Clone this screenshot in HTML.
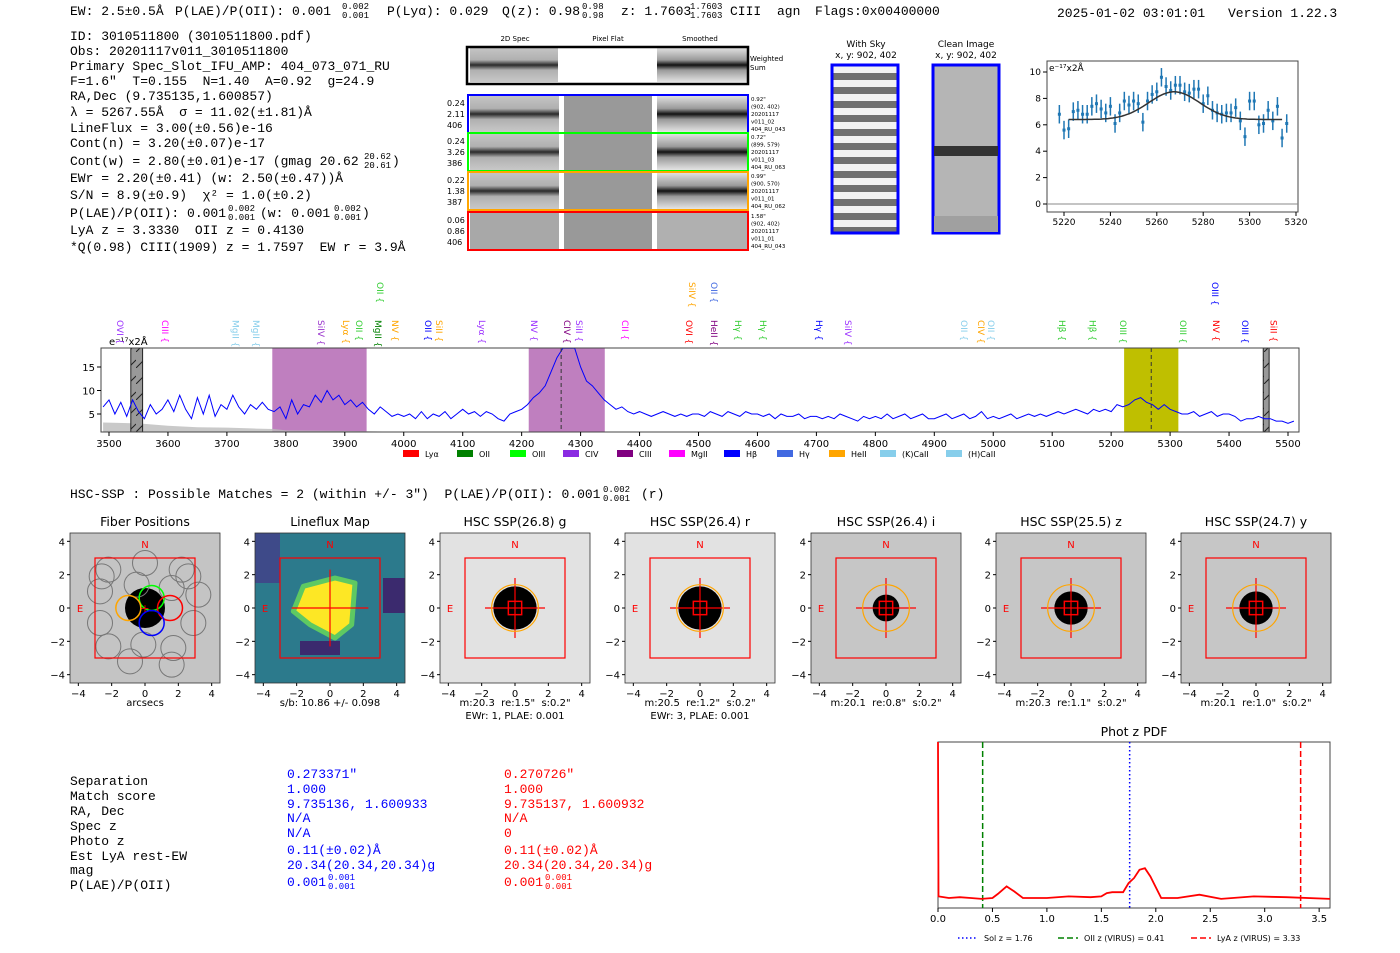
<!DOCTYPE html>
<html><head><meta charset="utf-8"><style>
body{margin:0;background:#fff;width:1400px;height:953px;overflow:hidden}
svg{display:block}
text{white-space:pre}
.m{font-family:"Liberation Mono","DejaVu Sans Mono",monospace;font-size:13px}
.sm{font-family:"Liberation Mono","DejaVu Sans Mono",monospace;font-size:9px}
.s{font-family:"DejaVu Sans","Liberation Sans",sans-serif}
</style></head><body>
<svg id="root" width="1400" height="953" viewBox="0 0 1400 953" xmlns="http://www.w3.org/2000/svg">
<defs>
<linearGradient id="band" x1="0" y1="0" x2="0" y2="1"><stop offset="0" stop-color="#c4c4c4"/><stop offset="0.35" stop-color="#b0b0b0"/><stop offset="0.5" stop-color="#2a2a2a"/><stop offset="0.65" stop-color="#b0b0b0"/><stop offset="1" stop-color="#c8c8c8"/></linearGradient>
<linearGradient id="bandS" x1="0" y1="0" x2="0" y2="1"><stop offset="0" stop-color="#e0e0e0"/><stop offset="0.35" stop-color="#9a9a9a"/><stop offset="0.5" stop-color="#111"/><stop offset="0.65" stop-color="#9a9a9a"/><stop offset="1" stop-color="#e4e4e4"/></linearGradient>
<pattern id="sky" width="10" height="14" patternUnits="userSpaceOnUse"><rect width="10" height="14" fill="#f2f2f2"/><rect y="3" width="10" height="7" fill="#707070"/></pattern>
<pattern id="hatch" width="8" height="16" patternUnits="userSpaceOnUse"><rect width="8" height="16" fill="#999"/><line x1="0" y1="16" x2="8" y2="8" stroke="#222" stroke-width="1"/></pattern>
</defs>

<g>
<text class="m" x="70" y="15">EW: 2.5±0.5Å</text>
<text class="m" x="175" y="15">P(LAE)/P(OII): 0.001</text>
<text class="sm" x="342" y="9">0.002</text><text class="sm" x="342" y="18">0.001</text>
<text class="m" x="387" y="15">P(Lyα): 0.029</text>
<text class="m" x="502" y="15">Q(z): 0.98</text>
<text class="sm" x="582" y="9">0.98</text><text class="sm" x="582" y="18">0.98</text>
<text class="m" x="621" y="15">z: 1.7603</text>
<text class="sm" x="690" y="9">1.7603</text><text class="sm" x="690" y="18">1.7603</text>
<text class="m" x="730" y="15">CIII</text>
<text class="m" x="777" y="15">agn</text>
<text class="m" x="815" y="15">Flags:0x00400000</text>
<text class="m" x="1057" y="17">2025-01-02 03:01:01</text>
<text class="m" x="1228" y="17">Version 1.22.3</text>
</g>

<g>
<text class="m" x="70" y="40">ID: 3010511800 (3010511800.pdf)</text>
<text class="m" x="70" y="55">Obs: 20201117v011_3010511800</text>
<text class="m" x="70" y="70">Primary Spec_Slot_IFU_AMP: 404_073_071_RU</text>
<text class="m" x="70" y="85">F=1.6"  T=0.155  N=1.40  A=0.92  g=24.9</text>
<text class="m" x="70" y="100">RA,Dec (9.735135,1.600857)</text>
<text class="m" x="70" y="116">λ = 5267.55Å  σ = 11.02(±1.81)Å</text>
<text class="m" x="70" y="132">LineFlux = 3.00(±0.56)e-16</text>
<text class="m" x="70" y="147">Cont(n) = 3.20(±0.07)e-17</text>
<text class="m" x="70" y="165">Cont(w) = 2.80(±0.01)e-17 (gmag 20.62</text>
<text class="sm" x="364" y="159">20.62</text><text class="sm" x="364" y="168">20.61</text><text class="m" x="392" y="165">)</text>
<text class="m" x="70" y="182">EWr = 2.20(±0.41) (w: 2.50(±0.47))Å</text>
<text class="m" x="70" y="199">S/N = 8.9(±0.9)  χ² = 1.0(±0.2)</text>
<text class="m" x="70" y="217">P(LAE)/P(OII): 0.001</text>
<text class="sm" x="228" y="211">0.002</text><text class="sm" x="228" y="220">0.001</text>
<text class="m" x="260" y="217">(w: 0.001</text>
<text class="sm" x="334" y="211">0.002</text><text class="sm" x="334" y="220">0.001</text><text class="m" x="362" y="217">)</text>
<text class="m" x="70" y="234">LyA z = 3.3330  OII z = 0.4130</text>
<text class="m" x="70" y="251">*Q(0.98) CIII(1909) z = 1.7597  EW r = 3.9Å</text>
</g>

<g>
<text x="515" y="41" text-anchor="middle" class="s" font-size="7">2D Spec</text>
<text x="608" y="41" text-anchor="middle" class="s" font-size="7">Pixel Flat</text>
<text x="700" y="41" text-anchor="middle" class="s" font-size="7">Smoothed</text>
<rect x="470" y="48" width="88" height="34" fill="url(#band)"/>
<rect x="657" y="48" width="90" height="34" fill="url(#bandS)"/>
<rect x="467" y="47" width="281" height="37" fill="none" stroke="#000" stroke-width="2.5"/>
<text x="750" y="61" class="s" font-size="7">Weighted</text><text x="750" y="70" class="s" font-size="7">Sum</text>
<g id="rows"></g>
<text x="866" y="47" text-anchor="middle" class="s" font-size="9">With Sky</text>
<text x="866" y="58" text-anchor="middle" class="s" font-size="9">x, y: 902, 402</text>
<rect x="832" y="65" width="66" height="168" fill="url(#sky)" stroke="#00f" stroke-width="3"/>
<text x="966" y="47" text-anchor="middle" class="s" font-size="9">Clean Image</text>
<text x="966" y="58" text-anchor="middle" class="s" font-size="9">x, y: 902, 402</text>
<rect x="933" y="65" width="66" height="168" fill="#b5b5b5" stroke="#00f" stroke-width="3"/>
<rect x="934" y="146" width="64" height="10" fill="#333"/>
<rect x="934" y="216" width="64" height="16" fill="#a0a0a0"/>
</g>

<g id="fit"></g>
<g id="spec"></g>

<text class="m" x="70" y="498">HSC-SSP : Possible Matches = 2 (within +/- 3")  P(LAE)/P(OII): 0.001</text>
<text class="sm" x="603" y="492">0.002</text><text class="sm" x="603" y="501">0.001</text><text class="m" x="641" y="498">(r)</text>

<g id="cuts"></g>
<g><g id="tbl"></g></g>
<g id="pdf"></g>
</svg>
<script>
const specStart = 3490, specStep = 10;
const specFlux = [6.5,8,5,7.5,4.5,8,5.5,4,7,5,6,
8,5.5,9,6,4,8.5,5,9,4.5,7,
6,9,6.5,5,7,6,7.5,6,5.5,6.5,
4,8,5,7,6.5,9,7.5,10,8,9,
7,8,6.5,7.5,6,5,6.5,5.5,4.5,5,
4.5,5,4,5.5,4,5,4.5,5.5,4,5,
6,5,5.5,4.5,5.5,5,4,3.5,5,5.5,
6,7,8.5,9.5,11,14,17,19,19,19,
15,12,11,9.5,8,7,6,6.5,5.5,5,
5.5,5,4.5,5,5.5,5,4.5,5,4.5,5,
5,4.5,5.5,5,4.5,5.5,5,4.5,5.5,5,
5,4.5,5,4,5,4.5,4.5,5,4,4.5,
4.5,4,4.5,4,5,4.5,4,3.5,4.5,4,
4.5,4,5,4,4.5,5,4,4.5,5,4,
4,4.5,5,4,4.5,5,4,4.5,5.5,4,
4.5,4,4.5,5,4,4.5,5,4.5,5,4.5,
5,5.5,5,5.5,6,5.5,5,6,5.5,6,
5.5,7,6.5,7,8,8.5,7.5,7,6,7,
6,5.5,5,5,5.5,4.5,5,5.5,4.5,5,
5,4.5,3.5,4,4,4.5,4,4,3.5,3.5,
3,3.5];
const skyWave = [3490,3550,3600,3650,3700,3750,3780,3800,3900,4000,4300,4500];
const skyFlux = [3.2,3.0,2.5,2.2,2.1,1.9,1.8,1.5,1.4,1.2,1.1,1.0];
const specTicksX = [3500,3600,3700,3800,3900,4000,4100,4200,4300,4400,4500,4600,4700,4800,4900,5000,5100,5200,5300,5400,5500];
const specTicksY = [5,10,15];
const purpleBands = [[3777,3937],[4212,4341]];
const yellowBands = [[5222,5314]];
const maskBands = [[3537,3557],[5458,5468]];
const dashedLines = [4267,5268];
const lineNames = ["OVI","CIII","MgII","MgII","SiIV","Lyα","OII","MgII","NV","OII","SiII","Lyα","NV","CIV","SiII","CII","OVI","HeII","Hγ","Hγ","Hγ","SiIV","OII","CIV","OII","Hβ","Hβ","OIII","OIII","NV","OIII","SiII","OII","SiIV","OII","OIII"];
const lineWaves = [3519,3595,3715,3749,3860,3902,3924,3956,3985,4041,4060,4133,4221,4277,4297,4375,4484,4526,4567,4609,4704,4754,4950,4979,4996,5117,5168,5220,5322,5378,5427,5475,3960,4489,4526,5376];
const lineColors = ["#9b30ff","#ff00ff","#87ceeb","#87ceeb","#9932cc","#ffa500","#32cd32","#008000","#ffa500","#0000ff","#ffa500","#9b30ff","#9b30ff","#800080","#9b30ff","#ff00ff","#ff0000","#800080","#32cd32","#32cd32","#0000ff","#9b30ff","#87ceeb","#ffa500","#87ceeb","#32cd32","#32cd32","#32cd32","#32cd32","#ff0000","#0000ff","#ff0000","#32cd32","#ffa500","#4169e1","#0000ff"];
const lineRow = [0,0,0,0,0,0,0,0,0,0,0,0,0,0,0,0,0,0,0,0,0,0,0,0,0,0,0,0,0,0,0,0,1,1,1,1];
const legendNames = ["Lyα","OII","OIII","CIV","CIII","MgII","Hβ","Hγ","HeII","(K)CaII","(H)CaII"];
const legendColors = ["#ff0000","#008000","#00ff00","#8a2be2","#800080","#ff00ff","#0000ff","#4169e1","#ffa500","#87ceeb","#87ceeb"];

const fitWave = [5218,5220,5222,5224,5226,5228,5230,5232,5234,5236,5238,5240,5242,5244,5246,5248,5250,5252,5254,5256,5258,5260,5262,5264,5266,5268,5270,5272,5274,5276,5278,5280,5282,5284,5286,5288,5290,5292,5294,5296,5298,5300,5302,5304,5306,5308,5310,5312,5314,5316];
const fitFlux = [6.8,5.6,5.7,7.0,7.1,6.8,6.8,7.4,7.6,7.2,6.9,7.4,6.1,6.9,7.8,7.5,7.8,7.6,6.2,7.8,8.3,8.5,9.6,8.9,8.6,9.0,9.0,8.5,8.4,8.7,8.7,7.6,8.2,7.1,6.9,6.8,6.9,6.9,7.3,6.3,5.1,7.8,7.8,6.0,6.1,7.1,6.3,7.4,5.0,6.1];
const fitErr = [0.7,0.7,0.7,0.7,0.7,0.7,0.7,0.7,0.7,0.7,0.7,0.7,0.7,0.7,0.7,0.7,0.7,0.7,0.7,0.7,0.7,0.7,0.7,0.7,0.7,0.7,0.7,0.7,0.7,0.7,0.7,0.7,0.7,0.7,0.7,0.7,0.7,0.7,0.7,0.7,0.7,0.7,0.7,0.7,0.7,0.7,0.7,0.7,0.7,0.7];
const fitModel = [6.4, 2.1, 5267.5, 11.0];
const fitTicksX = [5220,5240,5260,5280,5300,5320];
const fitTicksY = [0,2,4,6,8,10];

const pdfZ = [0,0.005,0.1,0.2,0.3,0.4,0.5,0.55,0.63,0.7,0.78,0.9,1.0,1.2,1.4,1.5,1.55,1.6,1.7,1.75,1.8,1.85,1.9,1.95,2.05,2.2,2.4,2.6,2.9,3.2,3.6];
const pdfP = [10,0.7,0.6,0.65,0.6,0.55,0.6,0.85,1.3,1.0,0.6,0.6,0.6,0.7,0.65,0.7,0.9,0.95,0.95,1.5,1.8,2.3,2.4,1.9,0.6,0.6,0.8,0.55,0.7,0.65,0.55];
const pdfTicks = [0,0.5,1,1.5,2,2.5,3,3.5];
const pdfMarkers = [1.76,0.41,3.33];

const cutTitles = ["Fiber Positions","Lineflux Map","HSC SSP(26.8) g","HSC SSP(26.4) r","HSC SSP(26.4) i","HSC SSP(25.5) z","HSC SSP(24.7) y"];
const cutBlobR = [1.2,0,1.3,1.3,0.8,1.0,1.0];
const cutNotes1 = ["arcsecs","s/b: 10.86 +/- 0.098",'m:20.3  re:1.5"  s:0.2"','m:20.5  re:1.2"  s:0.2"','m:20.1  re:0.8"  s:0.2"','m:20.3  re:1.1"  s:0.2"','m:20.1  re:1.0"  s:0.2"'];
const cutNotes2 = ["","","EWr: 1, PLAE: 0.001","EWr: 3, PLAE: 0.001","","",""];

const NS="http://www.w3.org/2000/svg";
function mk(tag, a, parent){const e=document.createElementNS(NS,tag);for(const k in a)e.setAttribute(k,a[k]);parent.appendChild(e);return e;}
function txt(s,a,parent){const e=mk('text',a,parent);e.textContent=s;return e;}

(function(){
const g=document.getElementById('rows');
const ys=[96,134,173,213], cols=["#0000ff","#00ff00","#ffa500","#ff0000"];
const L=[["0.24","2.11","406"],["0.24","3.26","386"],["0.22","1.38","387"],["0.06","0.86","406"]];
const R=[["0.92\"","(902, 402)","20201117","v011_02","404_RU_043"],["0.72\"","(899, 579)","20201117","v011_03","404_RU_063"],["0.99\"","(900, 570)","20201117","v011_01","404_RU_062"],["1.58\"","(902, 402)","20201117","v011_01","404_RU_043"]];
for(let i=0;i<4;i++){
 const y=ys[i];
 const a=mk('rect',{x:470,y:y,width:89,height:36,fill:i==3?'#a8a8a8':'url(#band)'},g);
 
 
 const b=mk('rect',{x:564,y:y,width:88,height:36,fill:'#999'},g);
 
 
 const c=mk('rect',{x:657,y:y,width:90,height:36,fill:i==3?'#b0b0b0':'url(#bandS)'},g);
 
 
 const f=mk('rect',{x:468,y:y-1,width:280,height:38,fill:'none',stroke:cols[i],'stroke-width':2},g);
 
 
 for(let j=0;j<3;j++) txt(L[i][j],{x:447,y:y+10+j*11,'font-size':8,class:'s'},g);
 for(let j=0;j<5;j++) txt(R[i][j],{x:751,y:y+5+j*7.5,'font-size':5.5,class:'s'},g);
}})();

(function(){
const g=document.getElementById('fit');
const X0=1047,X1=1298,Y0=61,Y1=212;
const fx=v=>1064+(v-5220)*2.32, fy=v=>204-v*13.2;
mk('rect',{x:X0,y:Y0,width:X1-X0,height:Y1-Y0,fill:'#fff',stroke:'#444','stroke-width':1},g);
mk('line',{x1:X0,x2:X1,y1:fy(0),y2:fy(0),stroke:'#888','stroke-width':1},g);
fitTicksX.forEach(t=>{mk('line',{x1:fx(t),x2:fx(t),y1:Y1,y2:Y1+4,stroke:'#000'},g);txt(String(t),{x:fx(t),y:Y1+13,'text-anchor':'middle','font-size':9,class:'s'},g);});
fitTicksY.forEach(t=>{mk('line',{x1:X0-4,x2:X0,y1:fy(t),y2:fy(t),stroke:'#000'},g);txt(String(t),{x:X0-6,y:fy(t)+3,'text-anchor':'end','font-size':9,class:'s'},g);});
txt('e⁻¹⁷x2Å',{x:X0+2,y:Y0+10,'font-size':9,class:'s'},g);
fitWave.forEach((w,i)=>{
 const e=mk('line',{x1:fx(w),x2:fx(w),y1:fy(fitFlux[i]+fitErr[i]),y2:fy(fitFlux[i]-fitErr[i]),stroke:'#1f77b4','stroke-width':1.5},g);
 
 
 const p=mk('rect',{x:fx(w)-1.5,y:fy(fitFlux[i])-1.5,width:3,height:3,fill:'#1f77b4'},g);
 
 
});
let d='';for(let w=5222;w<=5314;w+=1){const v=fitModel[0]+fitModel[1]*Math.exp(-((w-fitModel[2])**2)/(2*fitModel[3]**2));d+=(d?'L':'M')+fx(w).toFixed(1)+','+fy(v).toFixed(1);}
const m=mk('path',{d:d,fill:'none',stroke:'#333','stroke-width':1.5},g);


})();

(function(){
const g=document.getElementById('spec');
const X0=101,X1=1299,Y0=348,Y1=432;
const sx=w=>109+(w-3500)*0.5895, sy=v=>Math.max(Y0,Math.min(Y1,437.5-v*4.7));
mk('rect',{x:X0,y:Y0,width:X1-X0,height:Y1-Y0,fill:'#fff'},g);
purpleBands.forEach(b=>{const r=mk('rect',{x:sx(b[0]),y:Y0,width:sx(b[1])-sx(b[0]),height:Y1-Y0,fill:'#bf7fbf'},g);});
yellowBands.forEach(b=>{const r=mk('rect',{x:sx(b[0]),y:Y0,width:sx(b[1])-sx(b[0]),height:Y1-Y0,fill:'#bfbf00'},g);});
let sd='M'+sx(skyWave[0])+','+Y1;skyWave.forEach((w,i)=>{sd+='L'+sx(w).toFixed(1)+','+sy(skyFlux[i]).toFixed(1);});sd+='L'+sx(skyWave[skyWave.length-1])+','+Y1+'Z';
const sk=mk('path',{d:sd,fill:'#bbb',opacity:0.8},g);


maskBands.forEach(b=>{const r=mk('rect',{x:sx(b[0]),y:Y0,width:sx(b[1])-sx(b[0]),height:Y1-Y0,fill:'url(#hatch)',stroke:'#222','stroke-width':1},g);});
let d='';specFlux.forEach((v,i)=>{d+=(i?'L':'M')+sx(specStart+i*specStep).toFixed(1)+','+sy(v).toFixed(1);});
const ln=mk('path',{d:d,fill:'none',stroke:'#0000ff','stroke-width':1},g);


dashedLines.forEach(w=>{const l=mk('line',{x1:sx(w),x2:sx(w),y1:Y0,y2:Y1,stroke:'#333','stroke-dasharray':'4,3','stroke-width':1},g);});
mk('rect',{x:X0,y:Y0,width:X1-X0,height:Y1-Y0,fill:'none',stroke:'#444'},g);
specTicksX.forEach(t=>{mk('line',{x1:sx(t),x2:sx(t),y1:Y1,y2:Y1+4,stroke:'#000'},g);txt(String(t),{x:sx(t),y:Y1+15,'text-anchor':'middle','font-size':10,class:'s'},g);});
specTicksY.forEach(t=>{mk('line',{x1:X0-4,x2:X0,y1:sy(t),y2:sy(t),stroke:'#000'},g);txt(String(t),{x:X0-6,y:sy(t)+4,'text-anchor':'end','font-size':10,class:'s'},g);});
txt('e⁻¹⁷x2Å',{x:109,y:345,'font-size':10,class:'s'},g);
lineNames.forEach((n,i)=>{
 const x=sx(lineWaves[i]), y=lineRow[i]?282:320;
 const t=txt(n+' {',{transform:`translate(${x-3},${y}) rotate(90)`,fill:lineColors[i],'font-size':9,class:'s'},g);
 
 
});
const lx=[403,457,510,563,617,669,724,777,829,880,946];
legendNames.forEach((n,i)=>{
 const r=mk('rect',{x:lx[i],y:450,width:16,height:7,fill:legendColors[i]},g);
 
 
 const t=txt(n,{x:lx[i]+22,y:457,'font-size':8,class:'s'},g);
 
 
});
})();

(function(){
const g=document.getElementById('cuts');
const xs=[70,255,440,625,811,996,1181], Y=533, W=150, u=W/9;
xs.forEach((x0,i)=>{
 const cx=x0+75, cy=Y+75, ux=v=>cx+v*u, uy=v=>cy-v*u;
 const pg=mk('g',{},g);
 
 
 txt(cutTitles[i],{x:cx,y:526,'text-anchor':'middle','font-size':12.5,class:'s'},pg);
 if(i==1){
  mk('rect',{x:x0,y:Y,width:W,height:W,fill:'#2c7a8c'},pg);
  mk('rect',{x:x0,y:Y,width:25,height:50,fill:'#3e4a89'},pg);
  mk('rect',{x:x0+128,y:Y+45,width:22,height:35,fill:'#3b2a6e'},pg);
  mk('rect',{x:x0+45,y:Y+108,width:40,height:14,fill:'#3b2a6e'},pg);
  mk('polygon',{points:`${ux(-1.6)},${uy(1.3)} ${ux(0.3)},${uy(1.8)} ${ux(1.5)},${uy(1.5)} ${ux(1.3)},${uy(-1.0)} ${ux(0.3)},${uy(-1.8)} ${ux(-1.2)},${uy(-1.0)} ${ux(-2.2)},${uy(-0.2)}`,fill:'#fde725',stroke:'#5ec962','stroke-width':5,'stroke-linejoin':'round'},pg);
 } else {
  mk('rect',{x:x0,y:Y,width:W,height:W,fill:i==0?'#c4c4c4':(i<4?'#e2e2e2':'#c6c6c6')},pg);
  mk('circle',{cx:cx,cy:cy,r:cutBlobR[i]*u,fill:'#000'},pg);
 }
 if(i==0){
  const hx=[[-2.2,2.3],[0,2.7],[2.2,2.3],[-2.7,1],[-0.5,1.4],[1.6,1.2],[3.2,0.8],[-2.7,-0.9],[2.9,-0.9],[-2.2,-2.3],[-0.1,-2.2],[1.7,-2.4],[-0.9,-3.2],[1.6,-3.4],[-2.6,1.9],[2.6,1.9]];
  hx.forEach(p=>mk('circle',{cx:ux(p[0]),cy:uy(p[1]),r:0.75*u,fill:'none',stroke:'#777','stroke-width':1},pg));
  [[0.4,0.6,'#00ff00'],[-1,0,'#ffa500'],[1.5,0,'#ff0000'],[0.4,-0.9,'#0000ff']].forEach(p=>mk('circle',{cx:ux(p[0]),cy:uy(p[1]),r:0.75*u,fill:'none',stroke:p[2],'stroke-width':1.5},pg));
 }
 mk('rect',{x:ux(-3),y:uy(3),width:6*u,height:6*u,fill:'none',stroke:'#f00','stroke-width':1.2},pg);
 if(i>=1){
  const a=i==1?2.3:1.8;
  mk('path',{d:`M${ux(-a)},${cy}H${ux(a)}M${cx},${uy(a)}V${uy(-a)}`,stroke:'#f00','stroke-width':1.2},pg);
 }
 if(i>=2){
  mk('circle',{cx:cx,cy:cy,r:1.4*u,fill:'none',stroke:'#ffa500','stroke-width':1.2},pg);
  mk('rect',{x:ux(-0.4),y:uy(0.4),width:0.8*u,height:0.8*u,fill:'none',stroke:'#f00','stroke-width':1.5},pg);
 }
 if(i==0) txt('+',{x:cx,y:cy+4,'font-size':11,fill:'#f00','text-anchor':'middle',class:'s'},pg);
 txt('N',{x:cx,y:Y+15,'text-anchor':'middle','font-size':10,fill:'#f00',class:'s'},pg);
 txt('E',{x:x0+10,y:cy+4,'text-anchor':'middle','font-size':10,fill:'#f00',class:'s'},pg);
 mk('rect',{x:x0,y:Y,width:W,height:W,fill:'none',stroke:'#333','stroke-width':0.8},pg);
 [-4,-2,0,2,4].forEach(t=>{
  mk('line',{x1:x0-3,x2:x0,y1:uy(t),y2:uy(t),stroke:'#000'},pg);
  txt(t<0?'−'+(-t):String(t),{x:x0-5,y:uy(t)+4,'text-anchor':'end','font-size':10,class:'s'},pg);
  mk('line',{x1:ux(t),x2:ux(t),y1:Y+W,y2:Y+W+3,stroke:'#000'},pg);
  txt(t<0?'−'+(-t):String(t),{x:ux(t),y:Y+W+14,'text-anchor':'middle','font-size':10,class:'s'},pg);
 });
 txt(cutNotes1[i],{x:cx,y:706,'text-anchor':'middle','font-size':10,class:'s'},pg);
 if(cutNotes2[i]) txt(cutNotes2[i],{x:cx,y:719,'text-anchor':'middle','font-size':10,class:'s'},pg);
});
})();

(function(){
const g=document.getElementById('tbl');
const labels=["Separation","Match score","RA, Dec","Spec z","Photo z","Est LyA rest-EW","mag","P(LAE)/P(OII)"];
const blue=['0.273371"','1.000','9.735136, 1.600933','N/A','N/A','0.11(±0.02)Å','20.34(20.34,20.34)g','0.001'];
const red=['0.270726"','1.000','9.735137, 1.600932','N/A','0','0.11(±0.02)Å','20.34(20.34,20.34)g','0.001'];
const ly=[785,800,815,830,845,860,874,889], vy=[778,793,808,822,837,854,869,886];
labels.forEach((l,i)=>txt(l,{x:70,y:ly[i],class:'m'},g));
blue.forEach((v,i)=>txt(v,{x:287,y:vy[i],class:'m',fill:'#0000ff'},g));
red.forEach((v,i)=>txt(v,{x:504,y:vy[i],class:'m',fill:'#ff0000'},g));
[[328,'#0000ff'],[545,'#ff0000']].forEach(p=>{
 txt('0.001',{x:p[0],y:880,class:'sm',fill:p[1]},g);
 txt('0.001',{x:p[0],y:889,class:'sm',fill:p[1]},g);
});
})();

(function(){
const g=document.getElementById('pdf');
const X0=938,X1=1330,Y0=742,Y1=908;
const px=z=>938+z*108.9, py=p=>908-p*16.6;
txt('Phot z PDF',{x:1134,y:736,'text-anchor':'middle','font-size':12.5,class:'s'},g);
mk('rect',{x:X0,y:Y0,width:X1-X0,height:Y1-Y0,fill:'#fff',stroke:'#444'},g);
const styles=[['#0000ff','1.5,2.5'],['#008000','6,3'],['#ff0000','6,3']];
pdfMarkers.forEach((z,i)=>{const l=mk('line',{x1:px(z),x2:px(z),y1:Y0,y2:Y1,stroke:styles[i][0],'stroke-dasharray':styles[i][1],'stroke-width':1.5},g);});
let d='';pdfZ.forEach((z,i)=>{d+=(i?'L':'M')+Math.min(px(z),X1).toFixed(1)+','+py(pdfP[i]).toFixed(1);});
const c=mk('path',{d:d,fill:'none',stroke:'#ff0000','stroke-width':1.8},g);


pdfTicks.forEach(t=>{mk('line',{x1:px(t),x2:px(t),y1:Y1,y2:Y1+4,stroke:'#000'},g);txt(t.toFixed(1),{x:px(t),y:Y1+14,'text-anchor':'middle','font-size':10,class:'s'},g);});
const legs=['Sol z = 1.76','OII z (VIRUS) = 0.41','LyA z (VIRUS) = 3.33'], lxs=[958,1058,1191];
legs.forEach((s,i)=>{
 const l=mk('line',{x1:lxs[i],x2:lxs[i]+20,y1:938,y2:938,stroke:styles[i][0],'stroke-dasharray':styles[i][1],'stroke-width':1.5},g);
 
 
 const t=txt(s,{x:lxs[i]+26,y:941,'font-size':8,class:'s'},g);
 
 
});
})();
</script>
</body></html>
